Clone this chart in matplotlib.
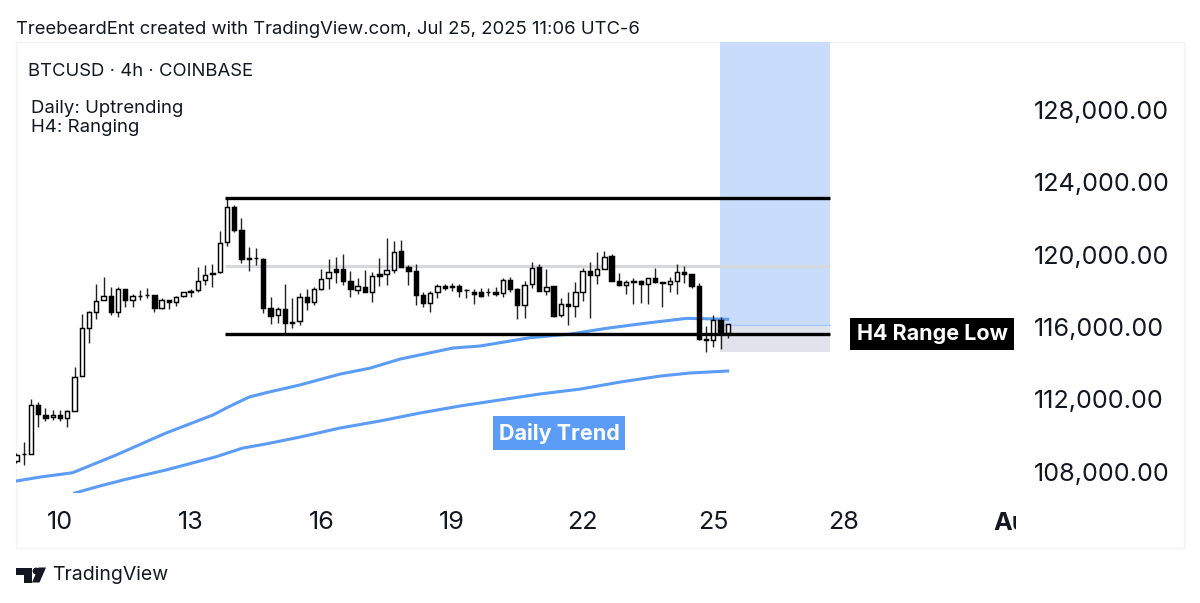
import matplotlib
matplotlib.use("Agg")
import matplotlib.pyplot as plt
from matplotlib.patches import Rectangle, Polygon, Circle
from matplotlib.transforms import Bbox
import numpy as np

plt.rcParams['font.family'] = ['Inter', 'DejaVu Sans']

# 4h candles, first one at Jul 9 00:00
opens = [108600, 108960, 108980, 111690, 111150, 111010, 111140, 110970, 111380, 113310,
         115950, 116830, 117490, 117710, 116830, 118080, 117490, 117700, 117770, 117770,
         117050, 117480, 117360, 117700, 117960, 118030, 118610, 119000, 119060, 120680,
         122650, 121340, 119780, 119830, 119740, 117030, 116660, 116980, 116200, 116310,
         117660, 117400, 118120, 118690, 119190, 119190, 118560, 118060, 118230, 117920,
         118910, 118910, 119170, 120180, 119300, 119090, 117770, 117310, 117930, 118280,
         118280, 118280, 118020, 117950, 117950, 117930, 117950, 117860, 118600, 118100,
         117200, 118360, 119300, 118010, 118270, 116680, 117270, 117180, 117950, 119090,
         118870, 119220, 119910, 118540, 118320, 118570, 118520, 118360, 118690, 118470,
         118380, 118560, 119040, 118930, 118280, 115300, 115280, 116390, 115650]
highs = [109040, 109670, 112020, 111860, 111520, 111410, 111410, 111410, 113810, 116720,
         116900, 118360, 118780, 118190, 118190, 118080, 117820, 118040, 118140, 117770,
         117590, 117480, 117730, 117950, 118080, 119330, 119410, 119480, 121290, 123110,
         122740, 122020, 120440, 120380, 119800, 117640, 117090, 118360, 117620, 117860,
         118100, 118230, 119190, 119760, 119880, 120020, 119110, 118720, 119150, 119020,
         119830, 120900, 120770, 120810, 119430, 119480, 117950, 117990, 118360, 118380,
         118450, 118360, 118100, 118080, 118150, 118140, 118190, 118720, 118780, 118140,
         118560, 119610, 119460, 119190, 118270, 117590, 117950, 118500, 119240, 119570,
         120160, 120220, 120030, 118970, 118600, 118690, 118600, 118720, 119240, 118500,
         118780, 119460, 119370, 118940, 118410, 116060, 116660, 116540, 116170]
lows = [108490, 108380, 108960, 110480, 110810, 110860, 110820, 110480, 111370, 113290,
        115130, 116430, 117470, 116660, 116570, 117090, 117090, 117490, 117590, 116850,
        116980, 116980, 117140, 117640, 117640, 117950, 118340, 118190, 119000, 120480,
        121250, 119520, 119090, 119410, 116760, 116150, 116200, 115650, 115930, 116110,
        116940, 117220, 118040, 118080, 118410, 118320, 117640, 117810, 117920, 117400,
        118280, 118340, 119000, 119290, 118320, 117220, 117090, 116810, 117620, 118040,
        118010, 117640, 117590, 117250, 117640, 117730, 117730, 117670, 117920, 116430,
        116480, 118140, 118000, 117770, 116570, 116570, 116110, 116540, 117450, 116480,
        118360, 119200, 118530, 118270, 117810, 117250, 117310, 117270, 118460, 117090,
        117920, 117810, 118410, 118140, 115280, 114640, 114880, 114770, 115380]
closes = [108930, 108980, 111690, 111190, 110970, 111140, 110960, 111360, 113250, 115930,
          116810, 117450, 117700, 116810, 118080, 117490, 117710, 117730, 117750, 117050,
          117480, 117400, 117660, 117920, 118010, 118560, 118870, 118910, 120640, 122610,
          121360, 119760, 119830, 119790, 117030, 116620, 116980, 116200, 116260, 117660,
          117400, 118120, 118670, 119040, 119060, 118560, 118080, 118250, 117920, 118800,
          118840, 119150, 120160, 119300, 119090, 117770, 117310, 117880, 118280, 118170,
          118190, 118010, 118040, 117810, 117730, 117950, 117820, 118600, 118100, 117200,
          118320, 119280, 118010, 118230, 116620, 117270, 117160, 117920, 119090, 118870,
          119220, 119880, 118540, 118320, 118470, 118490, 118360, 118690, 118470, 118410,
          118520, 119020, 118930, 118280, 115320, 115330, 116390, 115610, 116150]

# the two moving averages, day of month / price
ema_fast_days = [8.99, 9.54, 10.29, 11.29, 12.43, 13.51, 13.88, 14.34, 14.73, 15.51, 16.43,
                 17.12, 17.81, 19.02, 19.64, 20.79, 21.71, 22.55, 23.47, 24.39, 25.33]
ema_fast = [107490, 107710, 107950, 108930, 110140, 111140, 111600, 112130, 112370, 112800, 113400,
            113730, 114230, 114840, 114950, 115410, 115610, 115930, 116220, 116480, 116430]
ema_slow_days = [10.34, 10.92, 11.52, 12.43, 13.58, 14.19, 14.73, 15.51, 16.43, 17.35, 18.27,
                 19.19, 20.10, 21.02, 21.94, 22.86, 23.78, 24.46, 25.33]
ema_slow = [106830, 107220, 107590, 108100, 108830, 109310, 109540, 109920, 110420, 110810, 111250,
            111640, 111970, 112300, 112570, 112960, 113290, 113460, 113570]

range_high = 123130
range_mid = 119370
range_low = 115610
range_start = 13.8
range_end = 27.68

box_start = 25.15
box_split = 116110
box_stop = 114620

price_ticks = [108000, 112000, 116000, 120000, 124000, 128000]
day_ticks = [10, 13, 16, 19, 22, 25, 28]

DARK = '#131722'
BLUE = '#5b9cf6'

fig = plt.figure(figsize=(12, 6.03), dpi=100, facecolor='white')

# light pane outline behind everything
fig.add_artist(Rectangle((16 / 1200, 1 - 548 / 603), 1168 / 1200, 506 / 603, transform=fig.transFigure,
                         facecolor='white', edgecolor='#f2f3f5', lw=1, zorder=-1))

ax = fig.add_axes([16 / 1200, 1 - 493 / 603, 1000 / 1200, 451 / 603])
ax.patch.set_alpha(0)
ax.set_xlim(8.99, 31.95)
ax.set_ylim(106830, 131750)
for s in ax.spines.values():
    s.set_visible(False)

ax.yaxis.tick_right()
ax.set_yticks(price_ticks)
ax.set_yticklabels([f'{p:,.2f}' for p in price_ticks])
ax.set_xticks(day_ticks)
ax.set_xticklabels([str(d) for d in day_ticks])
ax.tick_params(axis='y', length=0, pad=13, labelsize=18.1, labelcolor=DARK)
ax.tick_params(axis='x', length=0, pad=13, labelsize=18.1, labelcolor=DARK)

# Aug tick sits past the edge of the pane and gets cut off
aug = ax.text(32, -0.043, 'Aug', transform=ax.get_xaxis_transform(), ha='center', va='top', fontsize=18.1,
              fontweight='bold', color=DARK, clip_on=True)
aug.set_clip_box(Bbox([[16, 0], [1016, 603]]))

# long position box
ax.fill_between([box_start, range_end], box_split, 131750, color='#c9dcfb', lw=0, zorder=1)
ax.fill_between([box_start, range_end], box_stop, box_split, color='#e0e3eb', lw=0, zorder=1)
ax.plot([box_start, range_end], [box_split, box_split], color='#a9c8f9', lw=1, zorder=1.5)

ax.plot([range_start, range_end], [range_mid, range_mid], color='#d6d8de', lw=2.2, solid_capstyle='butt', zorder=1.5)

ax.plot(ema_fast_days, ema_fast, color=BLUE, lw=2.2, zorder=2)
ax.plot(ema_slow_days, ema_slow, color=BLUE, lw=2.2, zorder=2)

days = 9 + np.arange(len(opens)) / 6
o = np.array(opens)
c = np.array(closes)
up = c >= o
ax.vlines(days, lows, highs, color='#222222', lw=1.0, zorder=3)
ax.bar(days, np.abs(c - o), bottom=np.minimum(o, c), width=0.1,
       color=['white' if u else 'black' for u in up], edgecolor='black', lw=1.05, zorder=4)

for level in [range_high, range_low]:
    ax.plot([range_start, range_end], [level, level], color='black', lw=2.4, solid_capstyle='butt', zorder=5)

fig.text(559 / 1200, 1 - 433 / 603, 'Daily Trend', ha='center', va='center', fontsize=15.5, fontweight='bold',
         color='white', bbox=dict(facecolor=BLUE, edgecolor='none', boxstyle='square,pad=0.28'), zorder=6)
fig.text(932 / 1200, 1 - 334 / 603, 'H4 Range Low', ha='center', va='center', fontsize=15.5, fontweight='bold',
         color='white', bbox=dict(facecolor='black', edgecolor='none', boxstyle='square,pad=0.3'), zorder=6)

fig.text(16 / 1200, 1 - 29.5 / 603, 'TreebeardEnt created with TradingView.com, Jul 25, 2025 11:06 UTC-6',
         ha='left', va='center', fontsize=13.3, color=DARK)
fig.text(28 / 1200, 1 - 71.5 / 603, 'BTCUSD · 4h · COINBASE', ha='left', va='center', fontsize=13.3, color=DARK)
fig.text(31 / 1200, 1 - 108.5 / 603, 'Daily: Uptrending', ha='left', va='center', fontsize=13.4, color=DARK)
fig.text(31 / 1200, 1 - 128 / 603, 'H4: Ranging', ha='left', va='center', fontsize=13.4, color=DARK)

# TradingView logo
def px(x, y):
    return (x / 1200, 1 - y / 603)

for pts in ([(15.5, 567.5), (31.5, 567.5), (31.5, 582.5), (23.5, 582.5), (23.5, 575), (15.5, 575)],
            [(38.5, 567.5), (46, 567.5), (39.5, 582.5), (32, 582.5)]):
    fig.add_artist(Polygon([px(*p) for p in pts], closed=True, transform=fig.transFigure, facecolor=DARK, edgecolor='none'))
logo_dot = Circle((36, 603 - 571), 3.4, transform=None, facecolor=DARK, edgecolor='none')
fig.add_artist(logo_dot)
fig.text(52 / 1200, 1 - 574.5 / 603, 'TradingView', ha='left', va='center', fontsize=14, color=DARK)

fig.savefig('out.png', dpi=100)
